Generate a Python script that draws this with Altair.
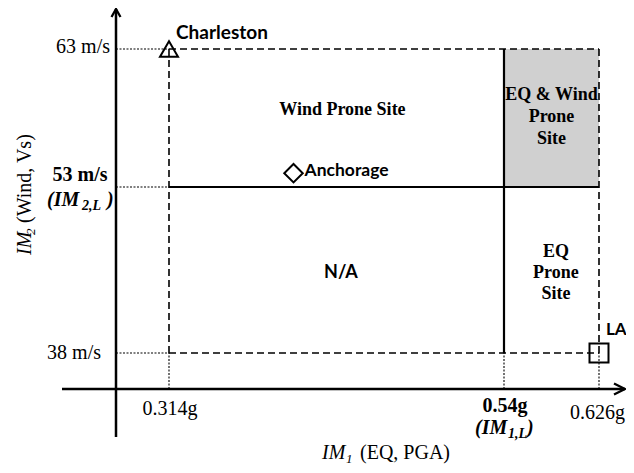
import altair as alt
import pandas as pd

# ---------------- data ----------------
# threshold values (IM1,L and IM2,L) and tick values
pga_ticks = [0.314, 0.54, 0.626]      # g
wind_ticks = [38, 53, 63]             # m/s
pga_limit = 0.54
wind_limit = 53
pga_min, pga_max = 0.314, 0.626
wind_min, wind_max = 38, 63

# sites
site_names = ["Charleston", "Anchorage", "LA"]
site_pga = [0.314, 0.398, 0.626]
site_wind = [63, 54, 38]
site_shapes = ["triangle-up", "diamond", "square"]

# region label positions (data units, first line of each label)
region_texts = ["Wind Prone Site", "EQ & Wind\nProne\nSite", "EQ\nProne\nSite"]
region_x = [0.431, 0.583, 0.587]
region_y = [58.6, 59.67, 47.1]
region_lh = [22, 22, 21]
na_text, na_x, na_y = "N/A", 0.430, 45.2

# schematic (non-uniform) axis breakpoints
x_breaks = [-0.1, 0, 0.314, 0.54, 0.626, 0.7]
x_pixels = [54, 108, 161, 496, 591, 617]
y_breaks = [-8, 0, 38, 53, 63, 70]
y_pixels = [429, 381, 345, 179, 41, 1]

SERIF = "Liberation Serif"
SANS = "Lato"

xsc = alt.Scale(domain=x_breaks, range=x_pixels, nice=False, zero=False)
ysc = alt.Scale(domain=y_breaks, range=y_pixels, nice=False, zero=False)


def X(f):
    return alt.X(f, type="quantitative", scale=xsc, axis=None)


def Y(f):
    return alt.Y(f, type="quantitative", scale=ysc, axis=None)


def segs(rows):
    return pd.DataFrame(rows, columns=["x1", "y1", "x2", "y2"])


axes_df = segs([(0, -8, 0, 70), (-0.1, 0, 0.7, 0)])
solid_df = segs([(pga_min, wind_limit, pga_max, wind_limit),
                 (pga_limit, wind_min, pga_limit, wind_max)])
dashed_df = segs([(pga_min, wind_max, pga_max, wind_max),
                  (pga_min, wind_min, pga_max, wind_min),
                  (pga_min, wind_min, pga_min, wind_max),
                  (pga_max, wind_min, pga_max, wind_max)])
dotted_df = segs([(0, wind_max, pga_min, wind_max),
                  (0, wind_limit, pga_min, wind_limit),
                  (0, wind_min, pga_min, wind_min),
                  (pga_min, 0, pga_min, wind_min),
                  (pga_limit, 0, pga_limit, wind_min),
                  (pga_max, 0, pga_max, wind_min)])


def rules(df, **kw):
    return alt.Chart(df).mark_rule(color="black", **kw).encode(
        x=X("x1"), x2="x2", y=Y("y1"), y2="y2")


gray = alt.Chart(pd.DataFrame({"x1": [pga_limit], "x2": [pga_max],
                               "y1": [wind_limit], "y2": [wind_max]})).mark_rect(
    color="#d0d0d0").encode(x=X("x1"), x2="x2", y=Y("y1"), y2="y2")

arrows = alt.Chart(pd.DataFrame({"x": [0, 0.7], "y": [70, 0],
                                 "s": ["up", "right"]})).mark_point(
    filled=False, color="black", strokeWidth=2.3, size=400, opacity=1).encode(
    x=X("x"), y=Y("y"),
    shape=alt.Shape("s:N", scale=alt.Scale(
        domain=["up", "right"],
        range=["M-0.45,0.8L0,0L0.45,0.8", "M-1.1,-0.55L0,0L-1.1,0.55"]), legend=None))

sites_df = pd.DataFrame({"name": site_names, "x": site_pga, "y": site_wind,
                         "shape": site_shapes})
markers = alt.Chart(sites_df).mark_point(
    filled=False, color="black", strokeWidth=2, opacity=1).encode(
    x=X("x"), y=Y("y"),
    shape=alt.Shape("shape:N", scale=None),
    size=alt.Size("name:N", scale=alt.Scale(domain=site_names, range=[324, 361, 324]),
                  legend=None))


def dtext(x, y, t, **kw):
    return alt.Chart(pd.DataFrame({"x": [x], "y": [y], "t": [t]})).mark_text(
        color="black", **kw).encode(x=X("x"), y=Y("y"), text="t:N")


def ptext(px, py, t, **kw):
    return alt.Chart(pd.DataFrame({"t": [t]})).mark_text(color="black", **kw).encode(
        x=alt.value(px), y=alt.value(py), text="t:N")


layers = [gray, rules(dotted_df, strokeWidth=1.1, strokeDash=[2, 1.5]),
          rules(dashed_df, strokeWidth=1.6, strokeDash=[7, 4]),
          rules(solid_df, strokeWidth=2.2),
          rules(axes_df, strokeWidth=2.5),
          arrows, markers]

# site labels
site_offsets = [(7, -16), (11, -2), (7, -23)]
site_fs = [19, 17.5, 17]
for n, x, y, (dx, dy), fs in zip(site_names, site_pga, site_wind, site_offsets, site_fs):
    layers.append(dtext(x, y, n, font=SANS, fontWeight="bold", fontSize=fs,
                        align="left", baseline="middle", dx=dx, dy=dy))

# region labels
for t, x, y, lh in zip(region_texts, region_x, region_y, region_lh):
    layers.append(dtext(x, y, t, font=SERIF, fontWeight="bold", fontSize=18,
                        align="center", baseline="middle", lineBreak="\n",
                        lineHeight=lh))
layers.append(dtext(na_x, na_y, na_text, font=SANS, fontWeight="bold", fontSize=18,
                    align="center", baseline="middle"))

# y tick labels
layers.append(dtext(0, 63, "63 m/s", font=SERIF, fontSize=20, align="right",
                    baseline="middle", dx=-6, dy=-2))
layers.append(dtext(0, 38, "38 m/s", font=SERIF, fontSize=20, align="right",
                    baseline="middle", dx=-15, dy=0))
layers.append(dtext(0, 53, "53 m/s", font=SERIF, fontWeight="bold", fontSize=20,
                    align="center", baseline="middle", dx=-36, dy=-12))
bi = dict(font=SERIF, fontWeight="bold", fontStyle="italic", align="left",
          baseline="alphabetic")
layers.append(dtext(0, 53, "(IM", fontSize=20, dx=-69, dy=19, **bi))
layers.append(dtext(0, 53, "2,L", fontSize=14, dx=-34, dy=23, **bi))
layers.append(dtext(0, 53, ")", fontSize=20, dx=-9, dy=19, **bi))

# x tick labels
layers.append(dtext(0.314, 0, "0.314g", font=SERIF, fontSize=20, align="center",
                    baseline="middle", dx=1, dy=20))
layers.append(dtext(0.626, 0, "0.626g", font=SERIF, fontSize=20, align="right",
                    baseline="middle", dx=26, dy=24))
layers.append(dtext(0.54, 0, "0.54g", font=SERIF, fontWeight="bold", fontSize=20,
                    align="center", baseline="middle", dx=1, dy=17))
layers.append(dtext(0.54, 0, "(IM", fontSize=20, dx=-29, dy=45, **bi))
layers.append(dtext(0.54, 0, "1,L", fontSize=14, dx=4, dy=49, **bi))
layers.append(dtext(0.54, 0, ")", fontSize=20, dx=23, dy=45, **bi))

# axis titles
it = dict(font=SERIF, fontStyle="italic", align="left", baseline="alphabetic")
layers.append(ptext(314, 451, "IM", fontSize=20, **it))
layers.append(ptext(338, 455, "1", fontSize=13, **it))
layers.append(ptext(352, 451, "(EQ, PGA)", font=SERIF, fontSize=20, align="left",
                    baseline="alphabetic"))
layers.append(ptext(23, 247, "IM", fontSize=20, angle=270, **it))
layers.append(ptext(23, 247, "2", fontSize=13, angle=270, dx=20, dy=4, **it))
layers.append(ptext(23, 247, "(Wind, Vs)", font=SERIF, fontSize=20, align="left",
                    baseline="alphabetic", angle=270, dx=32))

chart = alt.layer(*layers).properties(
    width=618, height=457, padding=0, autosize=alt.AutoSizeParams(type="none"),
    background="white").configure_view(stroke=None)

chart.save("out.html", embed_options={"renderer": "svg", "actions": False})
